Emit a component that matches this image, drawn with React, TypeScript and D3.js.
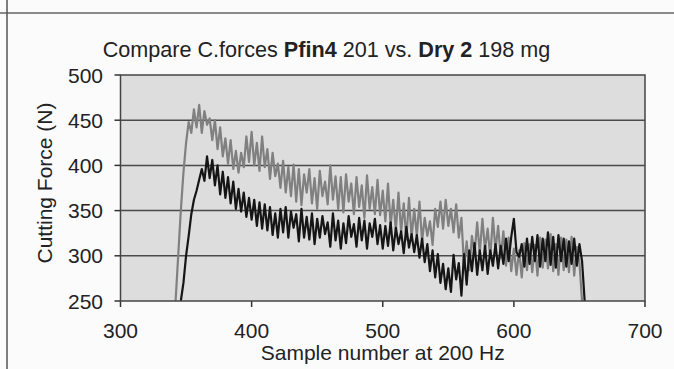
import React from "react";
import * as d3 from "d3";

const titleParts = [
  { text: "Compare C.forces ", bold: false },
  { text: "Pfin4", bold: true },
  { text: " 201 vs. ", bold: false },
  { text: "Dry 2", bold: true },
  { text: " 198 mg", bold: false },
];
const xLabel = "Sample number at 200 Hz";
const yLabel = "Cutting Force (N)";
const xTicks = [300, 400, 500, 600, 700];
const yTicks = [250, 300, 350, 400, 450, 500];

// Pfin4 (grey) — samples from 342, every 2 samples
const pfinStart = 342;
const pfinValues = [
  250, 300, 350, 392, 425, 448, 436, 462, 442, 467, 436, 460, 445, 452, 428, 450,
  418, 442, 410, 430, 402, 428, 396, 416, 392, 414, 398, 432, 404, 437, 400, 425,
  394, 432, 398, 418, 385, 414, 388, 402, 375, 405, 370, 398, 366, 401, 360, 396,
  356, 390, 370, 396, 358, 386, 352, 394, 366, 382, 357, 400, 362, 388, 352, 387,
  348, 390, 360, 380, 346, 387, 354, 378, 342, 389, 352, 376, 346, 384, 345, 372,
  338, 380, 334, 362, 328, 370, 326, 358, 318, 364, 320, 352, 322, 360, 316, 342,
  322, 338, 312, 352, 332, 360, 330, 362, 333, 352, 326, 357, 320, 342, 288, 316,
  284, 322, 302, 337, 303, 341, 307, 330, 298, 342, 306, 333, 298, 327, 289, 320,
  283, 308, 279, 306, 276, 314, 284, 313, 282, 312, 278, 320, 287, 318, 286, 324,
  283, 313, 279, 320, 284, 318, 282, 321, 278, 310, 292, 250,
];

// Dry 2 (black) — samples from 346, every 2 samples
const dryStart = 346;
const dryValues = [
  250, 270, 300, 322, 346, 362, 372, 384, 396, 383, 410, 386, 406, 378, 400, 368,
  393, 364, 387, 358, 382, 352, 374, 349, 370, 343, 364, 340, 362, 333, 359, 330,
  357, 328, 354, 323, 347, 320, 352, 326, 354, 320, 349, 331, 346, 316, 352, 320,
  343, 318, 347, 313, 341, 320, 344, 324, 337, 310, 347, 317, 339, 308, 336, 314,
  344, 321, 335, 310, 342, 317, 339, 308, 336, 321, 341, 313, 334, 308, 333, 311,
  337, 306, 331, 313, 327, 303, 332, 309, 324, 304, 323, 298, 319, 293, 313, 283,
  306, 276, 302, 270, 291, 263, 286, 260, 301, 274, 292, 256, 302, 268, 306, 283,
  314, 279, 306, 284, 311, 280, 306, 289, 313, 286, 311, 291, 319, 294, 321, 341,
  304, 299, 313, 288, 319, 291, 321, 294, 323, 288, 319, 294, 326, 290, 321, 287,
  323, 294, 319, 288, 316, 291, 319, 289, 313, 294, 250,
];

const W = 674;
const H = 369;
const M = { left: 120.5, right: 645, top: 75, bottom: 301 };

export default function App() {
  const x = d3.scaleLinear().domain([300, 700]).range([M.left, M.right]);
  const y = d3.scaleLinear().domain([250, 500]).range([M.bottom, M.top]);
  const line = d3
    .line<[number, number]>()
    .x((d) => x(d[0]))
    .y((d) => y(d[1]));
  const pfin: [number, number][] = pfinValues.map((v, i) => [pfinStart + i * 2, v]);
  const dry: [number, number][] = dryValues.map((v, i) => [dryStart + i * 2, v]);
  const font = "'Liberation Sans', Arial, sans-serif";

  return (
    <svg
      width={W}
      height={H}
      style={{ position: "absolute", left: 0, top: 0, background: "#fbfbfb" }}
      fontFamily={font}
    >
      <rect x={0} y={0} width={W} height={H} fill="#fbfbfb" />
      <line x1={0} x2={W} y1={13} y2={13} stroke="#666" strokeWidth={1.3} />
      <line x1={7} x2={7} y1={0} y2={H} stroke="#555" strokeWidth={1.5} />

      <text x={326.5} y={57} fontSize={21.6} fill="#222" textAnchor="middle">
        {titleParts.map((p, i) => (
          <tspan key={i} fontWeight={p.bold ? "bold" : "normal"}>
            {p.text}
          </tspan>
        ))}
      </text>

      <rect
        x={M.left}
        y={M.top}
        width={M.right - M.left}
        height={M.bottom - M.top}
        fill="#dddddd"
      />
      {yTicks.map((t) => (
        <g key={t}>
          {t > 250 && t < 500 && (
            <line x1={M.left} x2={M.right} y1={y(t)} y2={y(t)} stroke="#4a4a4a" strokeWidth={1.5} />
          )}
          <line x1={M.left - 6} x2={M.left} y1={y(t)} y2={y(t)} stroke="#333" strokeWidth={1.5} />
          <text x={103} y={y(t) + 7.5} fontSize={21} textAnchor="end" fill="#222">
            {t}
          </text>
        </g>
      ))}
      {xTicks.map((t) => (
        <g key={t}>
          <line x1={x(t)} x2={x(t)} y1={M.bottom} y2={M.bottom + 6} stroke="#333" strokeWidth={1.5} />
          <text x={x(t)} y={338} fontSize={21} textAnchor="middle" fill="#222">
            {t}
          </text>
        </g>
      ))}
      <path d={line(pfin) || ""} fill="none" stroke="#808080" strokeWidth={2.2} strokeLinejoin="round" />
      <path d={line(dry) || ""} fill="none" stroke="#151515" strokeWidth={2.2} strokeLinejoin="round" />
      <rect
        x={M.left}
        y={M.top}
        width={M.right - M.left}
        height={M.bottom - M.top}
        fill="none"
        stroke="#444"
        strokeWidth={1.5}
      />
      <text x={(M.left + M.right) / 2} y={360} fontSize={21} textAnchor="middle" fill="#222">
        {xLabel}
      </text>
      <text
        transform={`translate(52, 183) rotate(-90)`}
        fontSize={21}
        textAnchor="middle"
        fill="#222"
      >
        {yLabel}
      </text>
    </svg>
  );
}
